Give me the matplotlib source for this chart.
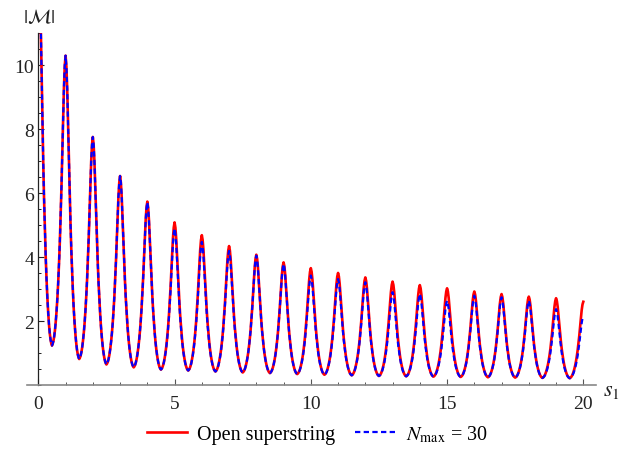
import numpy as np
import matplotlib.pyplot as plt
from matplotlib.lines import Line2D
from matplotlib.ticker import MultipleLocator

plt.rcParams['font.family'] = ['Liberation Serif', 'DejaVu Serif']
plt.rcParams['mathtext.fontset'] = 'stix'

# Resonance peaks sit at integer s1; values of |M| at each peak
peak_s = list(range(0, 21))
peak_open = [14.0, 10.30, 7.76, 6.54, 5.74, 5.09, 4.69, 4.35, 4.08, 3.84, 3.66,
             3.51, 3.37, 3.24, 3.13, 3.03, 2.93, 2.85, 2.77, 2.72, 2.61]
peak_nmax = [14.0, 10.30, 7.76, 6.54, 5.72, 4.90, 4.48, 4.20, 4.05, 3.79, 3.43,
             3.32, 3.22, 2.91, 2.85, 2.64, 2.80, 2.75, 2.64, 2.38, 2.16]

# Minima between neighbouring resonances (shared by both curves)
trough_s = [n + 0.5 for n in range(0, 20)]
trough_val = [1.24, 0.82, 0.65, 0.56, 0.49, 0.46, 0.43, 0.40, 0.38, 0.35,
              0.33, 0.31, 0.29, 0.28, 0.27, 0.26, 0.25, 0.24, 0.23, 0.22]

# Line shape of one resonance: distance from the peak and the fraction of
# the peak-to-minimum drop still remaining at that distance
profile_offset = [0.0, 0.03, 0.06, 0.09, 0.12, 0.15, 0.18, 0.21, 0.24, 0.27,
                  0.30, 0.33, 0.36, 0.39, 0.42, 0.45, 0.48, 0.50]
profile_level = [1.0, 0.965, 0.89, 0.78, 0.67, 0.55, 0.45, 0.36, 0.285, 0.22,
                 0.165, 0.12, 0.083, 0.053, 0.03, 0.014, 0.004, 0.0]


def resonance_curve(peaks):
    xs, ys = [], []
    off = np.array(profile_offset)
    lev = np.array(profile_level)
    for i, (s0, p) in enumerate(zip(peak_s, peaks)):
        if i > 0:
            t = trough_val[i - 1]
            xs.extend((s0 - off[::-1])[1:])
            ys.extend((t + (p - t) * lev[::-1])[1:])
        else:
            xs.append(s0)
            ys.append(p)
        if i < len(trough_val):
            t = trough_val[i]
            xs.extend((s0 + off)[1:])
            ys.extend((t + (p - t) * lev)[1:])
    return np.array(xs), np.array(ys)


fig = plt.figure(figsize=(6.34, 4.52), dpi=100)
ax = fig.add_axes([0.0424, 0.1454, 0.897, 0.7788])

x_open, y_open = resonance_curve(peak_open)
x_nmax, y_nmax = resonance_curve(peak_nmax)

ax.plot(x_open, y_open, color='#ff0000', lw=1.9, solid_joinstyle='round', zorder=3)
ax.plot(x_nmax, y_nmax, color='#0000ff', lw=1.6, linestyle=(0, (2.4, 1.5)), zorder=4)

ax.set_xlim(-0.42, 20.45)
ax.set_ylim(0, 11.0)

for side in ('top', 'right'):
    ax.spines[side].set_visible(False)
ax.spines['left'].set_position(('data', 0))
ax.spines['left'].set_color('#222222')
ax.spines['bottom'].set_color('#888888')
ax.spines['left'].set_linewidth(0.9)
ax.spines['bottom'].set_linewidth(1.2)

ax.xaxis.set_major_locator(MultipleLocator(5))
ax.xaxis.set_minor_locator(MultipleLocator(1))
ax.set_yticks([2, 4, 6, 8, 10])
ax.yaxis.set_minor_locator(MultipleLocator(0.5))
ax.tick_params(which='both', direction='in', colors='#222222', labelcolor='#222222',
               labelsize=14)
ax.tick_params(which='major', length=4.5, width=0.8, pad=3)
ax.tick_params(which='minor', length=2.5, width=0.7)
ax.tick_params(axis='x', which='both', colors='#555555', labelcolor='#222222')
ax.tick_params(axis='x', which='major', pad=7)

ax.text(-0.55, 11.2, r'$|\mathcal{M}|$', fontsize=14.5, ha='left', va='bottom',
        color='#222222')
ax.text(20.72, -0.15, r'$s_1$', fontsize=16, ha='left', va='center', color='#222222')

handles = [Line2D([], [], color='#ff0000', lw=1.9),
           Line2D([], [], color='#0000ff', lw=1.6, linestyle=(0, (2.4, 1.5)))]
labels = ['Open superstring', r'$N_{\mathrm{max}}$ = 30']
fig.legend(handles, labels, loc='center', bbox_to_anchor=(0.5, 1 - 435 / 452),
           ncol=2, frameon=False, fontsize=14.5, handlelength=2.0,
           handletextpad=0.5, columnspacing=1.0)

fig.savefig('out.png', dpi=100)
